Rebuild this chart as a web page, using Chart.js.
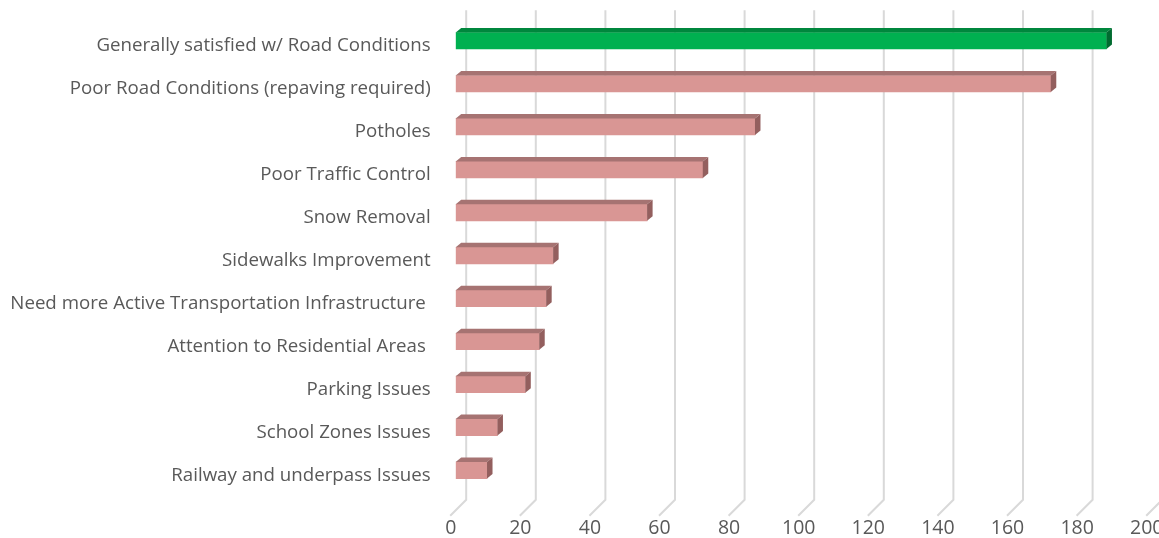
<!DOCTYPE html>
<html>
<head>
<meta charset="utf-8">
<script src="https://cdn.jsdelivr.net/npm/chart.js@4"></script>
<style>
  html, body { margin: 0; padding: 0; background: #fff; }
  #wrap { width: 1159px; height: 538px; position: relative; }
</style>
</head>
<body>
<div id="wrap"><canvas id="chart"></canvas></div>
<script>
var categories = [
  'Generally satisfied w/ Road Conditions',
  'Poor Road Conditions (repaving required)',
  'Potholes',
  'Poor Traffic Control',
  'Snow Removal',
  'Sidewalks Improvement',
  'Need more Active Transportation Infrastructure ',
  'Attention to Residential Areas ',
  'Parking Issues',
  'School Zones Issues',
  'Railway and underpass Issues'
];
var responses = [187, 171, 86, 71, 55, 28, 26, 24, 20, 12, 9];
var xTickValues = [0, 20, 40, 60, 80, 100, 120, 140, 160, 180, 200];

// face colours: front / top / side
var green = ['#00B050', '#00873D', '#006B30'];
var pink = ['#D99694', '#A67372', '#935F5E'];
function faces(i) { return i === 0 ? green : pink; }

var DX = 5.5, DY = 4.5;

// back-wall gridlines with a slanted floor edge, plus 3d bar faces
var wallPlugin = {
  id: 'wall',
  beforeDatasetsDraw: function(chart) {
    var ctx = chart.ctx, area = chart.chartArea, xs = chart.scales.x;
    ctx.save();
    ctx.strokeStyle = '#D9D9D9';
    ctx.lineWidth = 2;
    xs.ticks.forEach(function(t) {
      var bx = xs.getPixelForValue(t.value) + 10.5;
      ctx.beginPath();
      ctx.moveTo(bx, area.top - 9);
      ctx.lineTo(bx, area.bottom + 8);
      ctx.lineTo(bx - 16, area.bottom + 24);
      ctx.stroke();
    });
    ctx.restore();
  },
  afterDatasetsDraw: function(chart) {
    var ctx = chart.ctx;
    var meta = chart.getDatasetMeta(0);
    ctx.save();
    meta.data.forEach(function(bar, i) {
      var p = bar.getProps(['x', 'y', 'base', 'height'], true);
      var top = p.y - p.height / 2, bottom = p.y + p.height / 2;
      var c = faces(i);
      ctx.fillStyle = c[1];
      ctx.beginPath();
      ctx.moveTo(p.base, top);
      ctx.lineTo(p.base + DX, top - DY);
      ctx.lineTo(p.x + DX, top - DY);
      ctx.lineTo(p.x, top);
      ctx.closePath();
      ctx.fill();
      ctx.fillStyle = c[2];
      ctx.beginPath();
      ctx.moveTo(p.x, top);
      ctx.lineTo(p.x + DX, top - DY);
      ctx.lineTo(p.x + DX, bottom - DY);
      ctx.lineTo(p.x, bottom);
      ctx.closePath();
      ctx.fill();
    });
    ctx.restore();
  }
};

new Chart(document.getElementById('chart'), {
  type: 'bar',
  data: {
    labels: categories,
    datasets: [{
      data: responses,
      backgroundColor: function(c) { return faces(c.dataIndex)[0]; },
      borderWidth: 0,
      barThickness: 16.5
    }]
  },
  options: {
    indexAxis: 'y',
    responsive: true,
    maintainAspectRatio: false,
    animation: false,
    layout: { padding: { top: 19.3, right: 7.3, bottom: 0, left: 0 } },
    plugins: { legend: { display: false }, tooltip: { enabled: false } },
    scales: {
      x: {
        min: 0,
        max: 200,
        afterBuildTicks: function(s) {
          s.ticks = xTickValues.map(function(v) { return { value: v }; });
        },
        afterFit: function(s) {
          s.height = 46.2;
          s.paddingRight = 0;
          s.paddingLeft = 0;
        },
        grid: { display: false, drawTicks: false },
        border: { display: false },
        ticks: {
          color: '#595959',
          font: { family: 'Open Sans', size: 19.5 },
          padding: 24.5,
          labelOffset: -5,
          maxRotation: 0
        }
      },
      y: {
        afterFit: function(s) {
          s.width = 455.7;
          s.paddingTop = 0;
          s.paddingBottom = 0;
        },
        grid: { display: false, drawTicks: false },
        border: { display: false },
        ticks: {
          color: '#595959',
          font: { family: 'Open Sans', size: 18.7 },
          padding: 25,
          labelOffset: 5,
          autoSkip: false
        }
      }
    }
  },
  plugins: [wallPlugin]
});
</script>
</body>
</html>
